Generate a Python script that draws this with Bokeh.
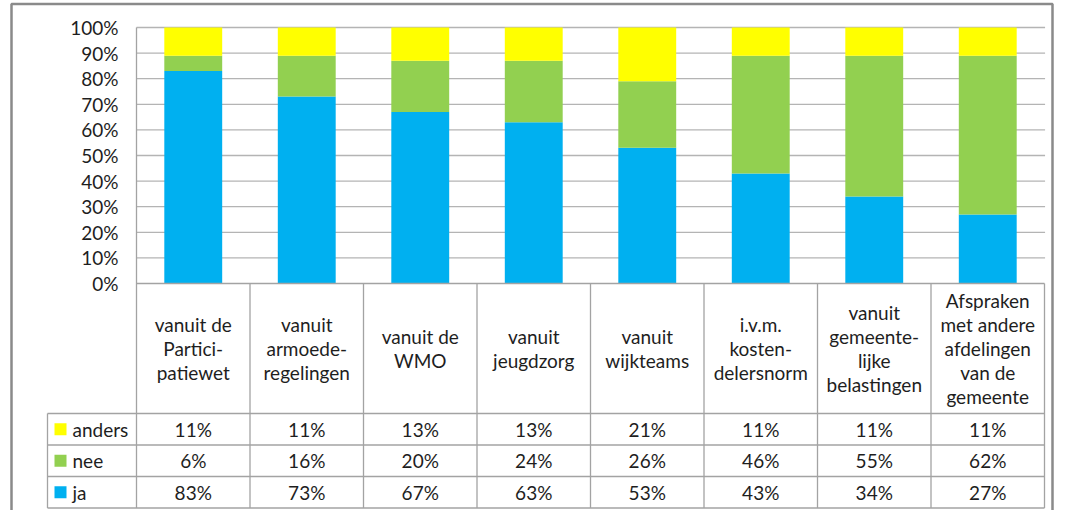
from bokeh.plotting import figure
from bokeh.models import Range1d, ColumnDataSource
from bokeh.core.properties import value
from bokeh.embed import file_html
from bokeh.resources import INLINE

# ---------------- data ----------------
categories = [
    "vanuit de\nPartici-\npatiewet",
    "vanuit\narmoede-\nregelingen",
    "vanuit de\nWMO",
    "vanuit\njeugdzorg",
    "vanuit\nwijkteams",
    "i.v.m.\nkosten-\ndelersnorm",
    "vanuit\ngemeente-\nlijke\nbelastingen",
    "Afspraken\nmet andere\nafdelingen\nvan de\ngemeente",
]
ja = [83, 73, 67, 63, 53, 43, 34, 27]
nee = [6, 16, 20, 24, 26, 46, 55, 62]
anders = [11, 11, 13, 13, 21, 11, 11, 11]
series_names = ["anders", "nee", "ja"]          # table row order
y_ticks = [0, 10, 20, 30, 40, 50, 60, 70, 80, 90, 100]
y_tick_labels = [f"{t}%" for t in y_ticks]

# ---------------- style / layout ----------------
COLORS = {"ja": "#00B0F0", "nee": "#92D050", "anders": "#FFFF00"}
FONT = value("Lato")
FS = "19px"
TXT = "#1e1e1e"
GRID = "#B4B4B4"
BORDER = "#A3A3A3"
OUTER = "#8A8A8A"

W, H = 1054, 510
X0_PX, COL_PX = 136.0, 113.5     # canvas pixel of category 0 left edge, px per category
Y0_PX, PCT_PX = 283.0, 2.56      # canvas pixel of 0 %, px per percent


def ux(px):
    return (px - X0_PX) / COL_PX


def vy(py):
    return (Y0_PX - py) / PCT_PX


n = len(categories)
p = figure(width=W, height=H,
           x_range=Range1d(ux(0), ux(W)), y_range=Range1d(vy(H), vy(0)),
           x_axis_location=None, y_axis_location=None,
           toolbar_location=None, output_backend="svg", min_border=0)
p.grid.visible = False
p.outline_line_color = None
p.background_fill_color = "white"
p.border_fill_color = "white"

# gridlines
gl = [t for t in y_ticks if t > 0]
p.segment(x0=[0] * len(gl), x1=[n + 0.005] * len(gl), y0=gl, y1=gl,
          line_color=GRID, line_width=1.3)

# stacked bars
src = ColumnDataSource(dict(x=[i + 0.5 for i in range(n)], ja=ja, nee=nee, anders=anders))
p.vbar_stack(["ja", "nee", "anders"], x="x", width=0.51, source=src,
             color=[COLORS["ja"], COLORS["nee"], COLORS["anders"]], line_color=None)

# y tick labels
p.text(x=[ux(118)] * len(y_ticks), y=y_ticks, text=y_tick_labels,
       text_align="right", text_baseline="middle", text_font=FONT,
       text_font_size=FS, text_color=TXT)

# table geometry (canvas pixels)
HEAD_TOP, HEAD_BOT = 283.0, 413.0
ROW_H = 31.5
rows_y = [HEAD_BOT + k * ROW_H for k in range(len(series_names) + 1)]
LEG_L = 47.0

x0s, x1s, y0s, y1s = [], [], [], []
x0s.append(0); x1s.append(n); y0s.append(vy(HEAD_TOP)); y1s.append(vy(HEAD_TOP))
for ry in rows_y:
    x0s.append(ux(LEG_L)); x1s.append(n); y0s.append(vy(ry)); y1s.append(vy(ry))
x0s.append(ux(LEG_L)); x1s.append(ux(LEG_L)); y0s.append(vy(rows_y[0])); y1s.append(vy(rows_y[-1]))
for i in range(n + 1):
    top = 100 if i == 0 else vy(HEAD_TOP)
    x0s.append(i); x1s.append(i); y0s.append(top); y1s.append(vy(rows_y[-1]))
p.segment(x0=x0s, x1=x1s, y0=y0s, y1=y1s, line_color=BORDER, line_width=1.3)

# header texts
hx, hy, ht = [], [], []
HEAD_C, LINE_H = 348.0, 24.0
for i, cat in enumerate(categories):
    lines = cat.split("\n")
    m = len(lines)
    for j, ln in enumerate(lines):
        hx.append(i + 0.5)
        hy.append(vy(HEAD_C + (j - (m - 1) / 2) * LINE_H))
        ht.append(ln)
p.text(x=hx, y=hy, text=ht, text_align="center", text_baseline="middle",
       text_font=FONT, text_font_size=FS, text_color=TXT)

# table values
vals = {"ja": ja, "nee": nee, "anders": anders}
tx, ty, tt = [], [], []
lx, ly, lt, lc = [], [], [], []
for r, s in enumerate(series_names):
    cy = vy((rows_y[r] + rows_y[r + 1]) / 2)
    for i in range(n):
        tx.append(i + 0.5); ty.append(cy); tt.append(f"{vals[s][i]}%")
    lx.append(ux(60)); ly.append(cy); lt.append(s); lc.append(COLORS[s])
p.text(x=tx, y=ty, text=tt, text_align="center", text_baseline="middle",
       text_font=FONT, text_font_size=FS, text_color=TXT)

# legend keys in table
p.scatter(x=lx, y=ly, marker="square", size=12, color=lc, line_color=None)
p.text(x=[ux(72)] * len(lt), y=ly, text=lt, text_align="left", text_baseline="middle",
       text_font=FONT, text_font_size=FS, text_color=TXT)

# outer frame of the chart object
p.multi_line(xs=[[ux(11), ux(11), ux(1052), ux(1052)]],
             ys=[[vy(530), vy(3.5), vy(3.5), vy(530)]],
             line_color=OUTER, line_width=2.5)

open("out.html", "w").write(file_html(p, INLINE))
